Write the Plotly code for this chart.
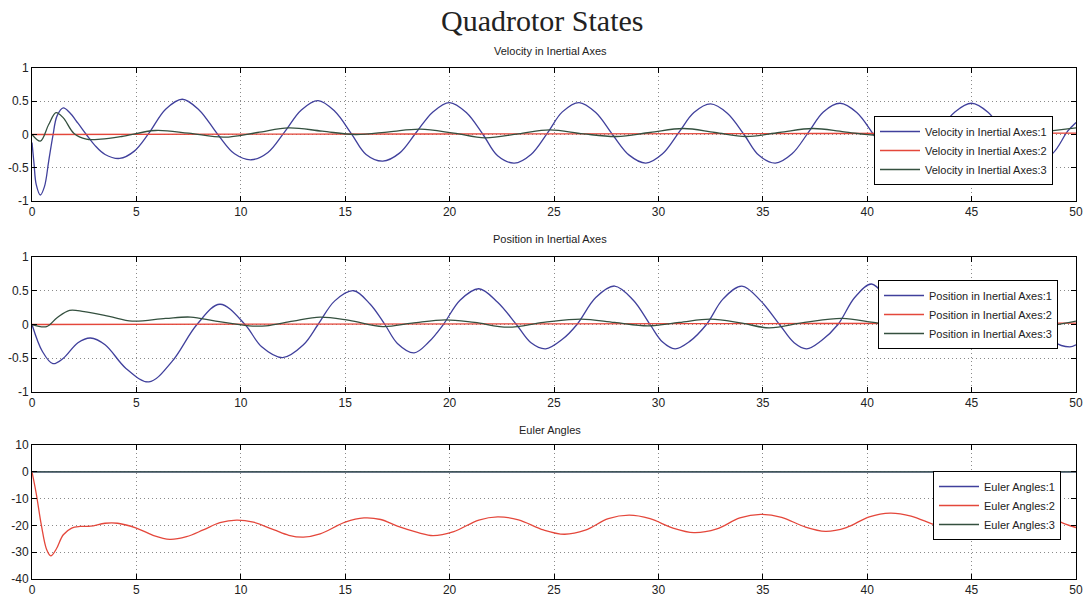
import plotly.graph_objects as go

# ---------------- data ----------------
# Velocity in inertial axes
vel_t1 = [0, 0.1, 0.2, 0.4, 0.6, 0.8, 1.0, 1.2, 1.5, 1.8, 2.2, 2.6, 3.0, 3.5, 4.2, 4.9, 5.6, 6.4, 7.2, 8.0,
          8.9, 9.7, 10.5, 11.3, 12.1, 12.9, 13.7, 14.5, 15.3, 16.0, 16.8, 17.6, 18.4, 19.2, 20.0, 20.8,
          21.6, 22.3, 23.1, 23.9, 24.7, 25.4, 26.2, 27.0, 27.8, 28.6, 29.4, 30.2, 31.0, 31.7, 32.5, 33.3,
          34.1, 34.8, 35.6, 36.4, 37.2, 37.9, 38.7, 39.5, 40.3, 41.0, 41.8, 42.6, 43.4, 44.2, 45.0, 45.8,
          46.6, 47.3, 48.1, 48.9, 49.6, 50.0]
vel_v1 = [-0.12, -0.45, -0.75, -0.91, -0.78, -0.40, -0.02, 0.28, 0.40, 0.33, 0.17, 0.0, -0.16, -0.30, -0.36, -0.25,
          0.02, 0.38, 0.53, 0.37, 0.0, -0.29, -0.38, -0.27, 0.04, 0.37, 0.51, 0.35, 0.01, -0.30, -0.40, -0.28,
          0.03, 0.34, 0.48, 0.33, 0.0, -0.32, -0.43, -0.30, 0.03, 0.34, 0.48, 0.33, 0.0, -0.31, -0.43, -0.29,
          0.04, 0.33, 0.46, 0.32, 0.0, -0.31, -0.43, -0.29, 0.04, 0.34, 0.47, 0.33, 0.0, -0.31, -0.43, -0.29,
          0.04, 0.34, 0.47, 0.33, 0.0, -0.31, -0.43, -0.28, 0.05, 0.18]
vel_t2 = [0, 12.5, 25, 37.5, 50]
vel_v2 = [0.0, 0.005, 0.01, 0.015, 0.02]
vel_t3 = [0, 0.4, 0.8, 1.15, 1.5, 2.0, 2.6, 3.3, 4.3, 5.9, 7.5, 9.2, 10.8, 12.3, 13.9, 15.5, 17.1, 18.6,
          20.2, 21.7, 23.3, 24.8, 26.4, 28.0, 29.6, 31.2, 32.7, 34.2, 35.8, 37.4, 38.9, 40.5, 42.1, 43.7,
          45.3, 46.8, 48.4, 50.0]
vel_v3 = [0.0, -0.10, 0.15, 0.33, 0.25, 0.02, -0.07, -0.07, -0.03, 0.06, 0.02, -0.04, 0.03, 0.10, 0.05, 0.0,
          0.04, 0.08, 0.02, -0.05, 0.01, 0.07, 0.01, -0.03, 0.03, 0.09, 0.03, -0.03, 0.03, 0.09, 0.04, -0.01,
          0.05, 0.10, 0.04, -0.02, 0.04, 0.10]

# Position in inertial axes
pos_t1 = [0, 0.5, 1.0, 1.5, 2.2, 2.8, 3.5, 4.5, 5.6, 6.7, 7.9, 9.0, 10.2, 11.0, 12.0, 13.0, 13.7, 14.5,
          15.4, 16.2, 16.9, 17.5, 18.3, 19.0, 19.7, 20.5, 21.4, 22.3, 23.2, 23.9, 24.6, 25.4, 26.1, 27.0,
          27.9, 28.8, 29.6, 30.2, 30.8, 31.5, 32.3, 33.1, 34.0, 34.9, 35.8, 36.5, 37.1, 37.8, 38.6, 39.4,
          40.2, 41.0, 41.9, 42.6, 43.3, 44.0, 44.8, 45.6, 46.5, 47.4, 48.2, 48.9, 49.7, 50.0]
pos_v1 = [0.0, -0.40, -0.58, -0.50, -0.27, -0.20, -0.30, -0.65, -0.85, -0.55, 0.0, 0.30, 0.0, -0.33, -0.49,
          -0.30, 0.0, 0.35, 0.50, 0.30, 0.0, -0.28, -0.42, -0.26, 0.0, 0.36, 0.53, 0.33, 0.0, -0.27, -0.36,
          -0.22, 0.0, 0.40, 0.57, 0.36, 0.0, -0.26, -0.36, -0.25, 0.0, 0.38, 0.57, 0.35, 0.0, -0.27, -0.36,
          -0.24, 0.0, 0.40, 0.60, 0.37, 0.0, -0.26, -0.35, -0.23, 0.0, 0.42, 0.62, 0.38, 0.0, -0.25, -0.33, -0.30]
pos_t2 = [0, 12.5, 25, 37.5, 50]
pos_v2 = [0.0, 0.005, 0.01, 0.015, 0.02]
pos_t3 = [0, 0.7, 1.2, 1.8, 2.5, 3.7, 4.8, 6.4, 7.6, 8.8, 10.4, 11.2, 12.5, 13.8, 15.2, 16.8, 18.2, 19.8,
          21.2, 22.8, 24.5, 26.3, 27.9, 29.5, 31.0, 32.5, 34.0, 35.3, 37.0, 38.8, 40.3, 41.8, 43.5, 45.1,
          46.7, 48.2, 50.0]
pos_v3 = [0.0, -0.03, 0.10, 0.21, 0.19, 0.12, 0.05, 0.09, 0.11, 0.05, -0.02, -0.02, 0.05, 0.11, 0.06, -0.03,
          0.02, 0.07, 0.03, -0.04, 0.03, 0.08, 0.03, -0.02, 0.03, 0.08, 0.02, -0.05, 0.03, 0.09, 0.03, -0.03,
          0.04, 0.09, 0.03, -0.03, 0.05]

# Euler angles
eul_t1 = [0, 50]
eul_v1 = [0.0, 0.0]
eul_t2 = [0, 0.2, 0.45, 0.7, 0.9, 1.15, 1.5, 1.9, 2.3, 2.8, 3.5, 4.1, 5.0, 5.8, 6.6, 7.4, 8.2, 9.0, 9.8,
          10.6, 11.6, 12.3, 13.0, 13.8, 15.0, 15.9, 16.7, 17.5, 18.5, 19.2, 20.2, 21.4, 22.3, 23.3, 24.5,
          25.5, 26.5, 27.6, 28.6, 29.6, 30.7, 31.7, 32.8, 33.9, 34.9, 35.9, 37.0, 38.0, 39.0, 40.1, 41.1,
          42.1, 43.3, 44.3, 45.3, 46.4, 47.4, 48.4, 49.5, 50.0]
eul_v2 = [0.0, -8.0, -20.0, -29.0, -31.4, -29.0, -23.5, -21.0, -20.4, -20.3, -19.2, -19.2, -21.0, -23.7,
          -25.2, -24.2, -21.7, -19.0, -18.0, -18.8, -21.7, -23.7, -24.4, -23.2, -18.8, -17.2, -17.8, -20.3,
          -22.7, -23.8, -22.3, -18.0, -16.8, -17.9, -21.7, -23.3, -21.8, -17.5, -16.2, -17.5, -21.0, -22.7,
          -21.3, -17.2, -15.9, -17.0, -20.5, -22.2, -20.8, -16.8, -15.4, -16.5, -20.0, -21.7, -20.3, -16.5,
          -15.1, -16.0, -19.5, -20.8]
eul_t3 = [0, 50]
eul_v3 = [0.0, 0.0]

x_ticks = [0, 5, 10, 15, 20, 25, 30, 35, 40, 45, 50]
y_ticks_unit = [-1, -0.5, 0, 0.5, 1]
y_ticks_eul = [-40, -30, -20, -10, 0, 10]

# ---------------- styling ----------------
W, H = 1086, 597
C1, C2, C3 = "#40409c", "#e4473b", "#34503f"
TICK_FONT = dict(family="Liberation Sans, Arial, sans-serif", size=12, color="#222")
LEG_FONT = dict(family="Liberation Sans, Arial, sans-serif", size=11, color="#222")
GRID_DASH = "1px,3px"


def px_x(p):
    return p / W


def px_y(p):
    return 1 - p / H


def tick_text(vals):
    # plain hyphen-minus labels
    return [("%g" % v).replace("\u2212", "-") for v in vals]


X0, X1 = 32, 1076
panels = [
    # (title, top px, bottom px, y range, y ticks, series, legend top-left px, title y px)
    ("Velocity in Inertial Axes", 68, 201, [-1, 1], y_ticks_unit,
     [(vel_t1, vel_v1), (vel_t2, vel_v2), (vel_t3, vel_v3)], (874, 116), 51),
    ("Position in Inertial Axes", 257, 392, [-1, 1], y_ticks_unit,
     [(pos_t1, pos_v1), (pos_t2, pos_v2), (pos_t3, pos_v3)], (878, 280), 239),
    ("Euler Angles", 445, 579, [-40, 10], y_ticks_eul,
     [(eul_t1, eul_v1), (eul_t2, eul_v2), (eul_t3, eul_v3)], (933, 471), 430),
]

fig = go.Figure()
layout = dict(
    width=W, height=H, template="none",
    margin=dict(l=0, r=0, t=0, b=0),
    paper_bgcolor="white", plot_bgcolor="white",
    showlegend=True, annotations=[],
)

for i, (title, top, bot, yr, yt, series, (lx, ly), ty) in enumerate(panels, start=1):
    sfx = "" if i == 1 else str(i)
    leg = "legend" if i == 1 else f"legend{i}"
    for k, ((t, v), col) in enumerate(zip(series, (C1, C2, C3)), start=1):
        fig.add_trace(go.Scatter(
            x=t, y=v, mode="lines", name=f"{title}:{k}",
            line=dict(color=col, width=1.3, shape="spline"),
            xaxis=f"x{sfx}", yaxis=f"y{sfx}", legend=leg,
        ))
    common = dict(
        ticks="inside", ticklen=5, tickcolor="black",
        showline=True, linecolor="black", linewidth=1, mirror="ticks",
        showgrid=True, gridcolor="#8a8a8a", griddash=GRID_DASH, gridwidth=1,
        zeroline=False, tickfont=TICK_FONT, automargin=False,
    )
    layout[f"xaxis{sfx}"] = dict(
        domain=[px_x(X0), px_x(X1)], anchor=f"y{sfx}", range=[0, 50],
        tickvals=x_ticks, ticktext=tick_text(x_ticks), **common,
    )
    layout[f"yaxis{sfx}"] = dict(
        domain=[px_y(bot), px_y(top)], anchor=f"x{sfx}", range=yr,
        tickvals=yt, ticktext=tick_text(yt), **common,
    )
    layout[leg] = dict(
        x=px_x(lx), y=px_y(ly), xanchor="left", yanchor="top",
        bgcolor="white", bordercolor="black", borderwidth=1,
        font=LEG_FONT, itemwidth=40, tracegroupgap=0,
    )
    layout["annotations"].append(dict(
        text=title, xref="paper", yref="paper", x=px_x((X0 + X1) / 2 - 4), y=px_y(ty),
        xanchor="center", yanchor="middle", showarrow=False,
        font=dict(family="Liberation Sans, Arial, sans-serif", size=11, color="#222"),
    ))

layout["annotations"].append(dict(
    text="Quadrotor States", xref="paper", yref="paper", x=px_x(542), y=px_y(20),
    xanchor="center", yanchor="middle", showarrow=False,
    font=dict(family="Liberation Serif, Times New Roman, serif", size=30, color="#222"),
))

fig.update_layout(**layout)
fig.write_html("out.html")
